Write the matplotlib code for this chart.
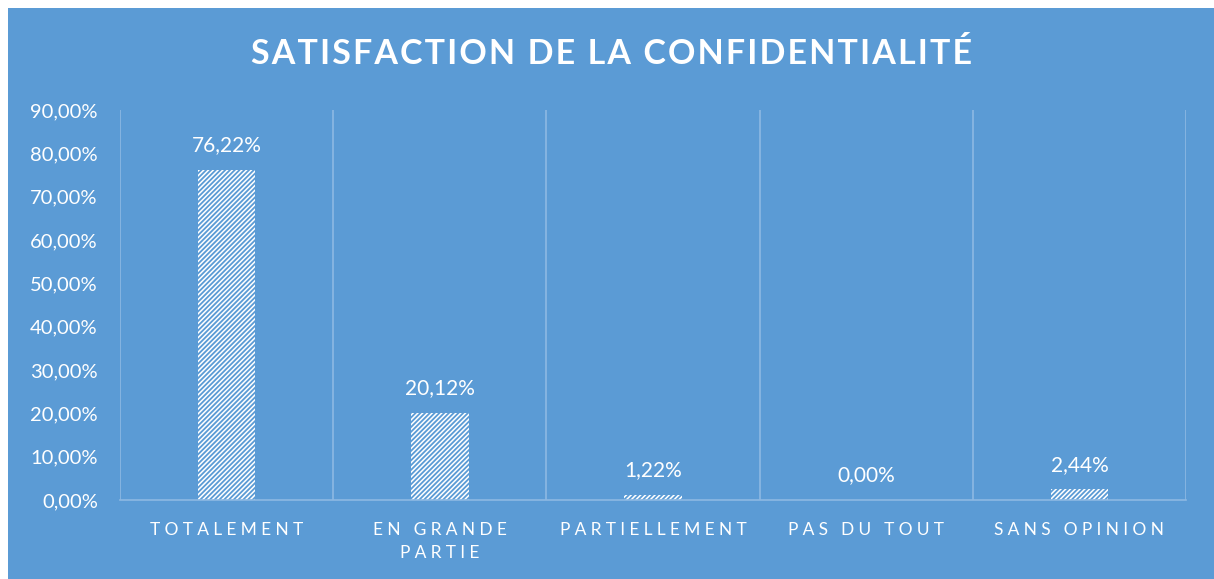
import numpy as np
import matplotlib.pyplot as plt

# Données
categories = ["TOTALEMENT", "EN GRANDE\nPARTIE", "PARTIELLEMENT", "PAS DU TOUT", "SANS OPINION"]
valeurs = [76.22, 20.12, 1.22, 0.00, 2.44]
etiquettes = ["76,22%", "20,12%", "1,22%", "0,00%", "2,44%"]
yticks = [0, 10, 20, 30, 40, 50, 60, 70, 80, 90]

bleu = "#5B9BD5"
grille = "#8DB9E3"

def espace(s, sep="\u2009"):
    # simule l'espacement des lettres
    return "\n".join(sep.join(list(l)) for l in s.split("\n"))

plt.rcParams['font.family'] = ['Lato', 'DejaVu Sans']
plt.rcParams['hatch.color'] = bleu
plt.rcParams['hatch.linewidth'] = 1.3

fig = plt.figure(figsize=(12.14, 5.79), dpi=100)
fig.patch.set_facecolor("white")
fig.add_artist(plt.Rectangle((8/1214, 0), 1, 1 - 8/579, transform=fig.transFigure,
                             facecolor=bleu, edgecolor="none", zorder=0))

ax = fig.add_axes([120/1214, (579-500)/579, (1186-120)/1214, (500-110)/579])
ax.set_facecolor("none")

x = np.arange(len(categories))
ax.bar(x, valeurs, width=0.27, color="white", edgecolor=bleu, hatch="///////", linewidth=0, zorder=2)

for xi, v, t in zip(x, valeurs, etiquettes):
    ax.text(xi, v + 3.4, t, ha="center", va="bottom", color="white", fontsize=15)

ax.set_xlim(-0.5, len(categories) - 0.5)
ax.set_ylim(0, 90)
ax.set_yticks(yticks)
ax.set_yticklabels(["%d,00%%" % t for t in yticks], color="white", fontsize=14.5)
ax.set_xticks(x)
ax.set_xticklabels([espace(c, "\u2009\u2009") for c in categories], color="white", fontsize=12.5, linespacing=1.55)
ax.tick_params(axis="y", length=0, pad=16)
ax.tick_params(axis="x", length=0, pad=16)

for b in np.arange(-0.5, len(categories), 1):
    ax.axvline(b, color=grille, linewidth=1.2, zorder=1)

for s in ["top", "left", "right"]:
    ax.spines[s].set_visible(False)
ax.spines["bottom"].set_color(grille)
ax.spines["bottom"].set_linewidth(1.2)

fig.text(611/1214, 1 - 54/579, espace("SATISFACTION DE LA CONFIDENTIALITÉ", "\u200a"),
         ha="center", va="center", color="white", fontsize=24.5, fontweight="bold")

fig.savefig("out.png", dpi=100)
